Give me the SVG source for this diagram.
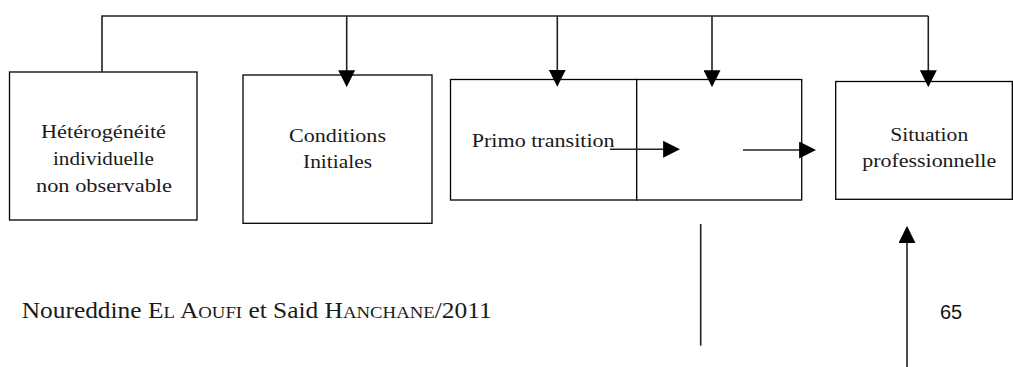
<svg xmlns="http://www.w3.org/2000/svg" width="1013" height="367" viewBox="0 0 1013 367">
<style>
.box{fill:#fff;stroke:#000;stroke-width:1.3}
.lbl{font-family:'Liberation Serif','DejaVu Serif',serif;font-size:19px;fill:#1a1a1a}
.c{stroke:#222;stroke-width:1.6;fill:none}
.foot{font-family:'Liberation Serif','DejaVu Serif',serif;font-size:23px;fill:#1a1a1a}
.sc{font-size:17px}
.num{font-family:'Liberation Sans','DejaVu Sans',sans-serif;font-size:20px;fill:#111}
</style>
<defs>
<marker id="ah" markerUnits="userSpaceOnUse" markerWidth="17" markerHeight="17" viewBox="0 0 16 16" refX="14" refY="8" orient="auto">
<path d="M0,0 L16,8 L0,16 z" fill="#000"/>
</marker>
</defs>
<rect width="1013" height="367" fill="#fff"/>
<g id="n1">
<rect class="box" x="9.5" y="72" width="187.5" height="148"/>
<text class="lbl" font-family="Liberation Serif, DejaVu Serif, serif" x="103.5" y="138.3" text-anchor="middle" textLength="125" lengthAdjust="spacingAndGlyphs">Hétérogénéité</text>
<text class="lbl" font-family="Liberation Serif, DejaVu Serif, serif" x="103.5" y="165" text-anchor="middle" textLength="101" lengthAdjust="spacingAndGlyphs">individuelle</text>
<text class="lbl" font-family="Liberation Serif, DejaVu Serif, serif" x="104" y="191.7" text-anchor="middle" textLength="136" lengthAdjust="spacingAndGlyphs">non observable</text>
</g>
<g id="n2">
<rect class="box" x="243" y="75" width="189" height="148.3"/>
<text class="lbl" font-family="Liberation Serif, DejaVu Serif, serif" x="337.5" y="141.7" text-anchor="middle" textLength="97" lengthAdjust="spacingAndGlyphs">Conditions</text>
<text class="lbl" font-family="Liberation Serif, DejaVu Serif, serif" x="337.5" y="168.3" text-anchor="middle" textLength="69" lengthAdjust="spacingAndGlyphs">Initiales</text>
</g>
<g id="n3">
<rect class="box" x="450.5" y="79.5" width="186.2" height="120.5"/>
<text class="lbl" font-family="Liberation Serif, DejaVu Serif, serif" x="471.7" y="147.3" textLength="143" lengthAdjust="spacingAndGlyphs">Primo transition</text>
</g>
<g id="n4">
<rect class="box" x="636.7" y="79.5" width="165" height="120.5"/>
</g>
<g id="n5">
<rect class="box" x="835.7" y="81.5" width="176.6" height="117.8"/>
<text class="lbl" font-family="Liberation Serif, DejaVu Serif, serif" x="929.2" y="141" text-anchor="middle" textLength="78" lengthAdjust="spacingAndGlyphs">Situation</text>
<text class="lbl" font-family="Liberation Serif, DejaVu Serif, serif" x="929.2" y="166.7" text-anchor="middle" textLength="134" lengthAdjust="spacingAndGlyphs">professionnelle</text>
</g>
<g id="connectors">
<polyline class="c" points="102,72 102,16 928.3,16"/>
<line class="c" x1="346.7" y1="16" x2="346.7" y2="85" marker-end="url(#ah)"/>
<line class="c" x1="557.3" y1="16" x2="557.3" y2="84.7" marker-end="url(#ah)"/>
<line class="c" x1="712" y1="16" x2="712" y2="85" marker-end="url(#ah)"/>
<line class="c" x1="928.3" y1="16" x2="928.3" y2="85" marker-end="url(#ah)"/>
<line class="c" x1="610" y1="149.3" x2="678" y2="149.3" marker-end="url(#ah)"/>
<line class="c" x1="743" y1="150" x2="814" y2="150" marker-end="url(#ah)"/>
<line class="c" x1="700.7" y1="224" x2="700.7" y2="345.7"/>
<line class="c" x1="907" y1="367" x2="907" y2="228" marker-end="url(#ah)"/>
</g>
<g id="footer">
<text class="foot" font-family="Liberation Serif, DejaVu Serif, serif" x="21.7" y="318" textLength="470" lengthAdjust="spacingAndGlyphs">Noureddine E<tspan class="sc">L</tspan> A<tspan class="sc">OUFI</tspan> et Said H<tspan class="sc">ANCHANE</tspan>/2011</text>
<text class="num" x="940" y="319">65</text>
</g>
</svg>
